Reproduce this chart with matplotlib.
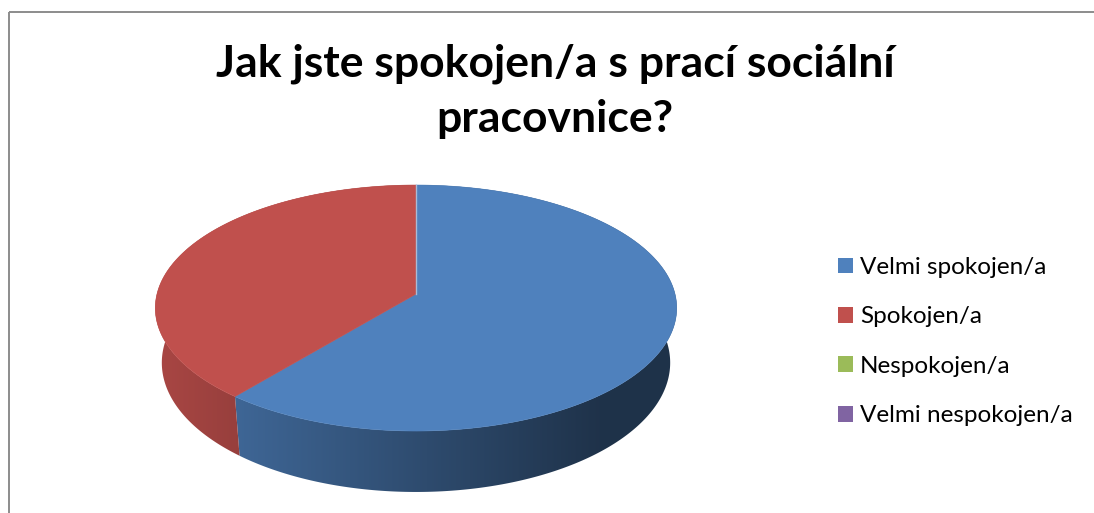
import numpy as np
import matplotlib.pyplot as plt
from matplotlib.patches import Polygon, Rectangle, Patch
from matplotlib.colors import to_rgb

plt.rcParams['font.family'] = ['Lato', 'DejaVu Sans']

# data (share of answers, %)
categories = ['Velmi spokojen/a', 'Spokojen/a', 'Nespokojen/a', 'Velmi nespokojen/a']
values = [61, 39, 0, 0]
colors = ['#4f81bd', '#c0504d', '#9bbb59', '#8064a2']
title_lines = ['Jak jste spokojen/a s prací sociální', 'pracovnice?']

W, H = 1094, 513
fig = plt.figure(figsize=(W / 100, H / 100), dpi=100)
ax = fig.add_axes([0, 0, 1, 1])

# pie projected in pixel space, slight perspective like the excel 3d pie
cx, cy = 416, 294
rx, ry = 259, 121.4
persp = 0.114
depth = 54
shrink = 0.975


def top_pt(theta):
    X, Z = np.sin(theta), np.cos(theta)
    s = 1 / (1 + persp * Z)
    return cx + rx * X * s, cy - ry * Z * s


def bottom_pt(theta):
    x, y = top_pt(theta)
    return cx + shrink * (x - cx), y + depth / (1 + persp * np.cos(theta))


def shade(x):
    # side walls get darker towards the right
    return np.clip(0.87 - 0.0011 * (x - 165), 0.39, 0.9)


total = float(sum(values))
fracs = np.array(values) / total
ends = np.cumsum(fracs) * 2 * np.pi
starts = ends - fracs * 2 * np.pi

xs = np.arange(W) + 0.5
for a0, a1, col in zip(starts, ends, colors):
    if a1 - a0 <= 0:
        continue
    t = np.linspace(a0, a1, 300)
    tx, ty = top_pt(t)
    bx, by = bottom_pt(t)
    # side wall with horizontal gradient
    side = Polygon(np.column_stack([np.r_[tx, bx[::-1]], np.r_[ty, by[::-1]]]),
                   closed=True, facecolor='none', edgecolor='none')
    ax.add_patch(side)
    grad = np.array(to_rgb(col))[None, None, :] * shade(xs)[None, :, None]
    im = ax.imshow(grad, extent=(0, W, H, 0), aspect='auto', zorder=1,
                   interpolation='bilinear')
    im.set_clip_path(side)
    # top face
    top = Polygon(np.column_stack([np.r_[cx, tx], np.r_[cy, ty]]), closed=True,
                  facecolor=col, edgecolor=col, lw=0.4, zorder=3)
    ax.add_patch(top)

# faint light seam at the back
sx, sy = top_pt(0.0)
ax.plot([cx, sx], [cy, sy], color='#a9bbd6', lw=1.0, zorder=4)

ax.text(555, 77, title_lines[0], ha='center', va='baseline', fontsize=32,
        fontweight='bold', color='black')
ax.text(555, 132, title_lines[1], ha='center', va='baseline', fontsize=32,
        fontweight='bold', color='black')

handles = [Patch(facecolor=c, edgecolor='none', label=l) for c, l in zip(colors, categories)]
ax.legend(handles=handles, loc='upper left', bbox_to_anchor=(838, 257),
          bbox_transform=ax.transData, frameon=False, fontsize=17.5,
          handlelength=0.62, handleheight=0.62, handletextpad=0.29,
          labelspacing=1.17, borderpad=0, borderaxespad=0)

# chart frame (right and bottom edges lie outside the picture)
ax.add_patch(Rectangle((9, 12), 1300, 700, facecolor='none', edgecolor='#8c8c8c',
                       lw=1.4, zorder=5, clip_on=False))

ax.set_xlim(0, W)
ax.set_ylim(H, 0)
ax.axis('off')

fig.savefig('out.png', dpi=100)
